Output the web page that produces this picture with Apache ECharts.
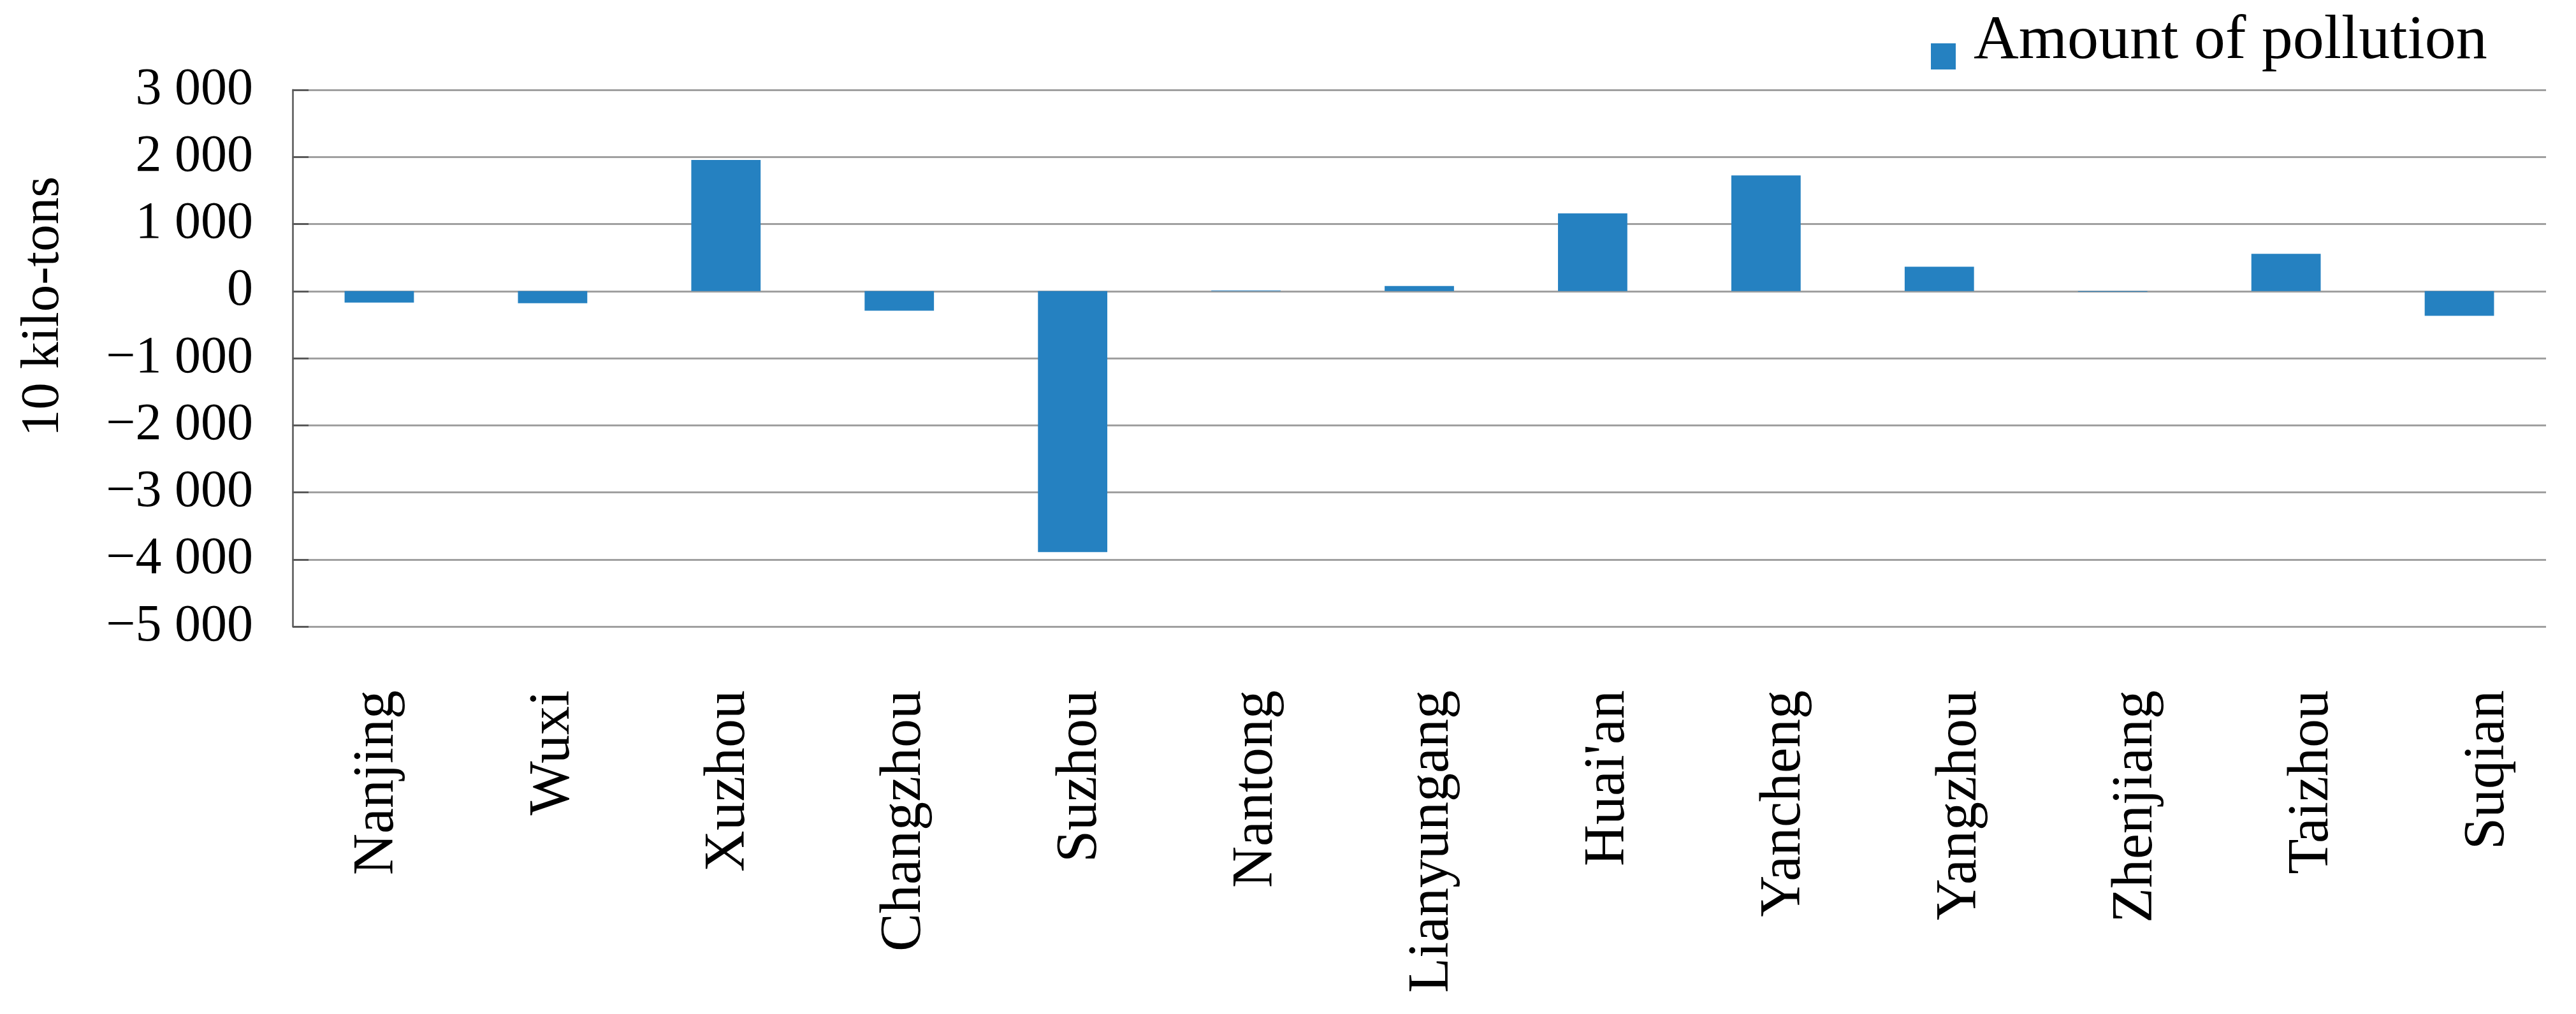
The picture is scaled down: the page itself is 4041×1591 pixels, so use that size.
<!DOCTYPE html>
<html>
<head>
<meta charset="utf-8">
<script src="https://cdn.jsdelivr.net/npm/echarts@6/dist/echarts.min.js"></script>
<style>
html,body{margin:0;padding:0;background:#fff;}
#chart{width:4041px;height:1591px;}
</style>
</head>
<body>
<div id="chart"></div>
<script>
const categories = ['Nanjing','Wuxi','Xuzhou','Changzhou','Suzhou','Nantong','Lianyungang',"Huai'an",'Yancheng','Yangzhou','Zhenjiang','Taizhou','Suqian'];
const pollutionValues = [-170, -181, 1956, -291, -3890, 10, 75, 1160, 1725, 363, -10, 555, -368];
const seriesName = 'Amount of pollution';
const yAxisTitle = '10 kilo-tons';
const yTicks = [-5000, -4000, -3000, -2000, -1000, 0, 1000, 2000, 3000];
const yTickLabels = ['\u22125 000','\u22124 000','\u22123 000','\u22122 000','\u22121 000','0','1 000','2 000','3 000'];

const FONT = '"Liberation Serif", "DejaVu Serif", serif';
const chart = echarts.init(document.getElementById('chart'));
chart.setOption({
  backgroundColor: '#ffffff',
  animation: false,
  grid: [
    { left: 459, right: 47, top: 141, bottom: 608 },
    { left: 454, width: 3588, top: 141, bottom: 608 }
  ],
  legend: {
    data: [seriesName],
    left: 3029,
    top: 16,
    padding: 0,
    itemWidth: 39,
    itemHeight: 41,
    icon: 'rect',
    formatter: function (name) { return '{t|' + name + '}\n{s| }'; },
    textStyle: {
      fontFamily: FONT, fontSize: 98, color: '#000',
      rich: {
        t: { fontFamily: FONT, fontSize: 98, lineHeight: 98, color: '#000', padding: [0, 0, 0, 23] },
        s: { fontFamily: FONT, fontSize: 10, lineHeight: 47 }
      }
    }
  },
  graphic: [{
    type: 'text',
    x: 69, y: 481,
    rotation: Math.PI / 2,
    style: { text: yAxisTitle, fontFamily: FONT, fontSize: 85, fill: '#000', align: 'center', verticalAlign: 'middle' }
  }],
  xAxis: [{
    type: 'category',
    gridIndex: 0,
    data: categories,
    axisLine: { show: false, onZero: false },
    axisTick: { show: false },
    axisLabel: { show: false },
    splitLine: { show: false }
  }, {
    type: 'category',
    gridIndex: 1,
    data: categories,
    axisLine: { show: false, onZero: false },
    axisTick: { show: false },
    axisLabel: { interval: 0, rotate: 90, margin: 100, fontFamily: FONT, fontSize: 90, color: '#000' },
    splitLine: { show: false }
  }],
  yAxis: [{
    type: 'value',
    gridIndex: 0,
    min: yTicks[0],
    max: yTicks[yTicks.length - 1],
    interval: 1000,
    axisLine: { show: true, lineStyle: { color: '#6e6e6e', width: 3 } },
    axisTick: { show: true, inside: true, length: 25, lineStyle: { color: '#5a5a5a', width: 3 } },
    axisLabel: {
      margin: 62, fontFamily: FONT, fontSize: 82, color: '#000',
      formatter: function (v) { const i = yTicks.indexOf(v); return i >= 0 ? yTickLabels[i] : ''; }
    },
    splitLine: { show: true, lineStyle: { color: '#a0a0a0', width: 3 } }
  }, {
    type: 'value',
    gridIndex: 1,
    min: yTicks[0],
    max: yTicks[yTicks.length - 1],
    interval: 1000,
    show: false
  }],
  series: [{
    name: seriesName,
    type: 'bar',
    xAxisIndex: 0,
    yAxisIndex: 0,
    data: pollutionValues,
    barCategoryGap: '60%',
    itemStyle: { color: '#2581C1' }
  }]
});
</script>
</body>
</html>
